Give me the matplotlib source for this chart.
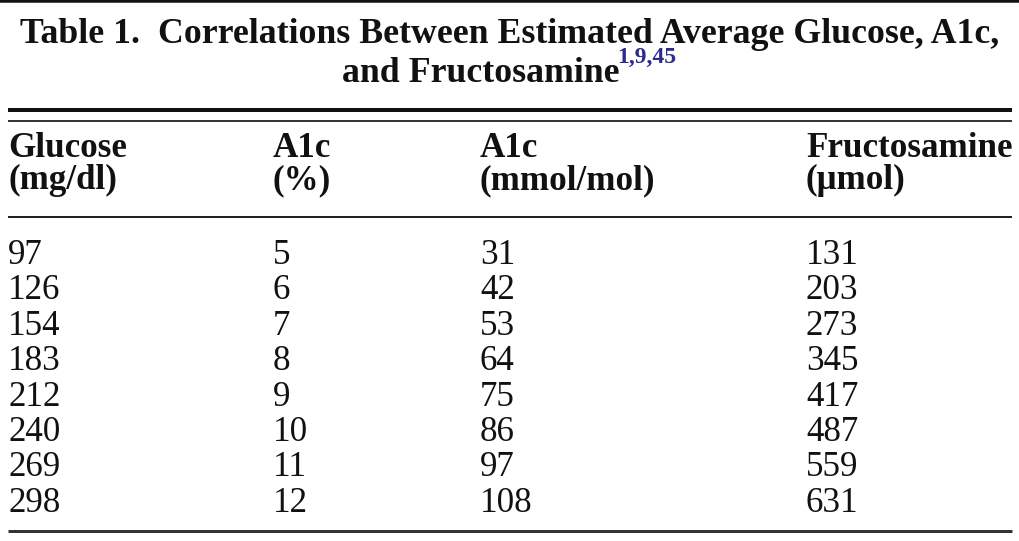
import matplotlib
matplotlib.use("Agg")
import matplotlib.pyplot as plt

title_line1 = "Table 1.  Correlations Between Estimated Average Glucose, A1c,"
title_line2 = "and Fructosamine"
title_refs = "1,9,45"
headers = [("Glucose", "(mg/dl)"), ("A1c", "(%)"), ("A1c", "(mmol/mol)"), ("Fructosamine", "(\u03bcmol)")]
glucose = [97, 126, 154, 183, 212, 240, 269, 298]
a1c_pct = [5, 6, 7, 8, 9, 10, 11, 12]
a1c_mmol = [31, 42, 53, 64, 75, 86, 97, 108]
fructosamine = [131, 203, 273, 345, 417, 487, 559, 631]

W, H = 1020, 541
fig = plt.figure(figsize=(W / 100, H / 100), dpi=100)
ax = fig.add_axes([0, 0, 1, 1])
ax.set_xlim(0, W)
ax.set_ylim(H, 0)
ax.axis("off")

FONT = "Liberation Serif"
px = lambda p: p * 72 / 100  # pixels -> points

# top border band
ax.hlines(1, 0, W, color="#111111", lw=px(3.5))

# title
renderer = fig.canvas.get_renderer()
t1 = ax.text(W / 2, 43, title_line1, ha="center", va="baseline", family=FONT,
             weight="bold", fontsize=px(36), color="#111111")
bb = t1.get_window_extent(renderer)
target = 978
t1.set_fontsize(px(36) * target / bb.width)
fs_title = t1.get_fontsize()

t2 = ax.text(0, 82, title_line2, ha="left", va="baseline", family=FONT,
             weight="bold", fontsize=fs_title, color="#111111")
t3 = ax.text(0, 63, title_refs, ha="left", va="baseline", family=FONT,
             weight="bold", fontsize=fs_title * 0.66, color="#2e2b8c")
w2 = t2.get_window_extent(renderer).width
w3 = t3.get_window_extent(renderer).width
x0 = W / 2 - (w2 + w3) / 2
t2.set_x(x0)
t3.set_x(x0 + w2 - 2)

# rules
L, R = 8, 1012
ax.hlines(109.7, L, R, color="#111111", lw=px(4))
ax.hlines(121, L, R, color="#222222", lw=px(1.8))
ax.hlines(217, L, R, color="#222222", lw=px(2))
ax.hlines(531, L, R, color="#333333", lw=px(3))

col_x = [8, 273, 480, 806]
fs_body = px(35)
for x, (h1, h2) in zip(col_x, headers):
    ax.text(x, 157, h1, ha="left", va="baseline", family=FONT, weight="bold",
            fontsize=fs_body, color="#111111")
    ax.text(x, 189, h2, ha="left", va="baseline", family=FONT, weight="bold",
            fontsize=fs_body, color="#111111")

row_y0, row_dy = 264, 35.4
for i, vals in enumerate(zip(glucose, a1c_pct, a1c_mmol, fructosamine)):
    y = row_y0 + i * row_dy
    for x, v in zip(col_x, vals):
        ax.text(x, y, str(v), ha="left", va="baseline", family=FONT,
                fontsize=fs_body, color="#111111")

fig.savefig("out.png", dpi=100)
